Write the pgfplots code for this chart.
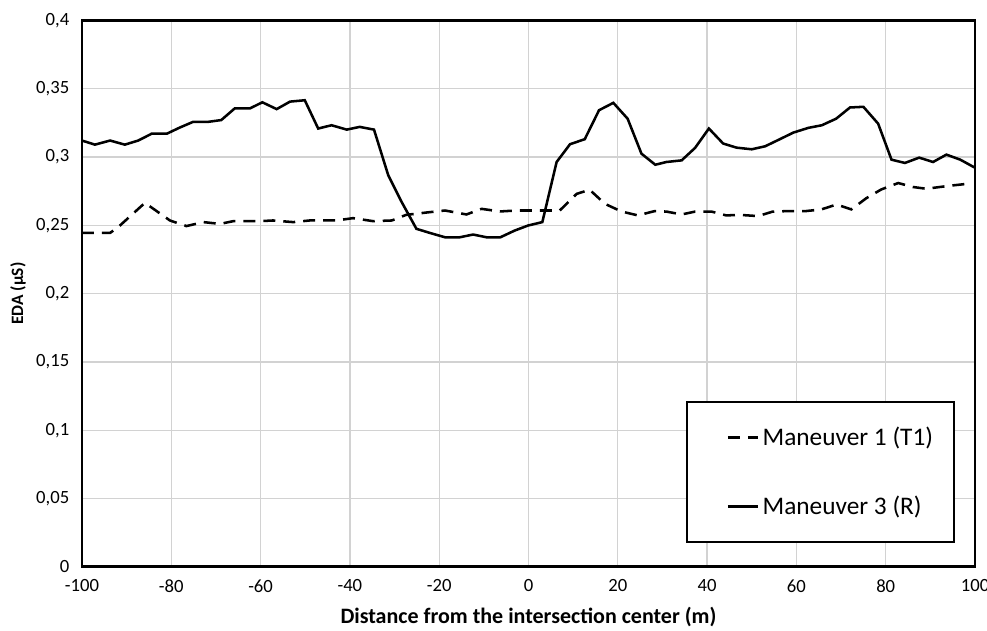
\documentclass[border=0pt]{standalone}
\usepackage{fontspec}
\setmainfont{Carlito}
\usepackage{pgfplots}
\pgfplotsset{compat=1.18}

\definecolor{gridgray}{RGB}{210,210,210}

\pgfplotsset{
  every tick label/.append style={font=\fontsize{14}{16}\selectfont},
  every y tick label/.append style={xshift=-6pt},
  every x tick label/.append style={yshift=-6pt},
}

\begin{document}
\begin{tikzpicture}
\useasboundingbox (-61.5pt,-48pt) rectangle (679pt,425.25pt);
\begin{axis}[
scale only axis,
width=670pt, height=410pt,
xmin=-100, xmax=100,
ymin=0, ymax=0.4,
xtick={-100,-80,-60,-40,-20,0,20,40,60,80,100},
ytick={0,0.05,0.1,0.15,0.2,0.25,0.3,0.35,0.4},
xticklabel={\fontsize{14}{16}\selectfont\pgfmathprintnumber[assume math mode=true]{\tick}},
yticklabel={\fontsize{14}{16}\selectfont\pgfmathprintnumber[fixed,precision=2,use comma,assume math mode=true]{\tick}},
major tick length=0pt,
grid=major,
grid style={gridgray, line width=1pt},
axis line style={line width=2pt},
xlabel={\textbf{Distance from the intersection center (m)}},
ylabel={\textbf{EDA (µS)}},
xlabel style={font=\fontsize{16.5}{19}\selectfont, at={(axis description cs:0.5,-0.0914)}, anchor=center},
ylabel style={font=\fontsize{13}{15}\selectfont, at={(axis description cs:-0.0717,0.5)}, anchor=center},
legend cell align=left,
legend style={at={(0.978,0.044)}, anchor=south east, draw=black, line width=1.5pt,
  inner xsep=14pt, inner ysep=17pt, row sep=32pt,
  font=\fontsize{19}{22}\selectfont},
legend image code/.code={\path (0pt,0pt); \draw[#1, line width=2.2pt] (16pt,0pt) -- (39pt,0pt);},
]

% Maneuver 1 (T1)
\addplot[black, line width=1.9pt, dash pattern=on 9pt off 6pt] coordinates {
(-100,0.2444)(-93.7,0.2444)(-91.9,0.2486)(-85.9,0.2664)(-80.3,0.2535)(-76.6,0.2494)(-72.8,0.2523)(-69.1,0.251)(-66.1,0.253)(-60.2,0.253)(-57.2,0.2535)(-52.7,0.2523)(-49,0.2535)(-43.0,0.2535)(-39.3,0.2552)(-34.8,0.253)(-30.6,0.2535)(-27.4,0.2576)(-22.1,0.2596)(-18.7,0.2608)(-13.9,0.2579)(-10.5,0.262)(-6.4,0.2601)(-2.7,0.2608)(3.3,0.2608)(7.0,0.2608)(10.8,0.273)(13.7,0.276)(17.1,0.2657)(20.8,0.2601)(24.5,0.2572)(28.3,0.2604)(30.9,0.26)(34.3,0.2579)(37.3,0.26)(41.0,0.26)(44.3,0.2572)(47.3,0.2576)(51.4,0.2567)(54.7,0.26)(58.5,0.2604)(62.2,0.2604)(65.6,0.2616)(69.0,0.2652)(72.3,0.2616)(75.7,0.2699)(79.0,0.2762)(82.8,0.2809)(86.1,0.278)(89.1,0.2767)(92.1,0.278)(95.1,0.2792)(98.5,0.2804)
};
\addlegendentry{Maneuver 1 (T1)}

% Maneuver 3 (R)
\addplot[black, line width=1.9pt] coordinates {
(-100,0.312)(-97.1,0.309)(-93.7,0.312)(-90.4,0.309)(-87.4,0.312)(-84.4,0.317)(-81.0,0.317)(-78.1,0.3215)(-75.1,0.3257)(-71.7,0.3257)(-68.8,0.327)(-65.8,0.3355)(-62.4,0.3355)(-59.6,0.340)(-56.4,0.335)(-53.4,0.3405)(-50.1,0.3415)(-47.1,0.3208)(-44.1,0.3232)(-40.7,0.320)(-37.8,0.322)(-34.6,0.320)(-31.4,0.2865)(-28.4,0.267)(-25.1,0.2474)(-22.1,0.2444)(-18.7,0.2412)(-15.4,0.2412)(-12.4,0.2432)(-9.4,0.2412)(-6.3,0.2412)(-3.1,0.2461)(-0.1,0.2498)(3.1,0.2523)(6.3,0.2963)(9.3,0.3093)(12.6,0.313)(15.8,0.3342)(19.0,0.3396)(22.2,0.328)(25.3,0.3024)(28.4,0.2943)(30.9,0.2963)(34.3,0.2975)(37.3,0.3066)(40.4,0.3208)(43.6,0.3098)(46.6,0.3068)(50.0,0.3056)(53.0,0.3078)(56.3,0.313)(59.3,0.3178)(62.7,0.3213)(65.7,0.3232)(68.9,0.328)(72.0,0.3362)(75.0,0.3367)(78.3,0.3244)(81.3,0.298)(84.3,0.2956)(87.5,0.2995)(90.6,0.2963)(93.6,0.3017)(96.7,0.298)(100,0.2921)
};
\addlegendentry{Maneuver 3 (R)}

\end{axis}
\end{tikzpicture}
\end{document}
